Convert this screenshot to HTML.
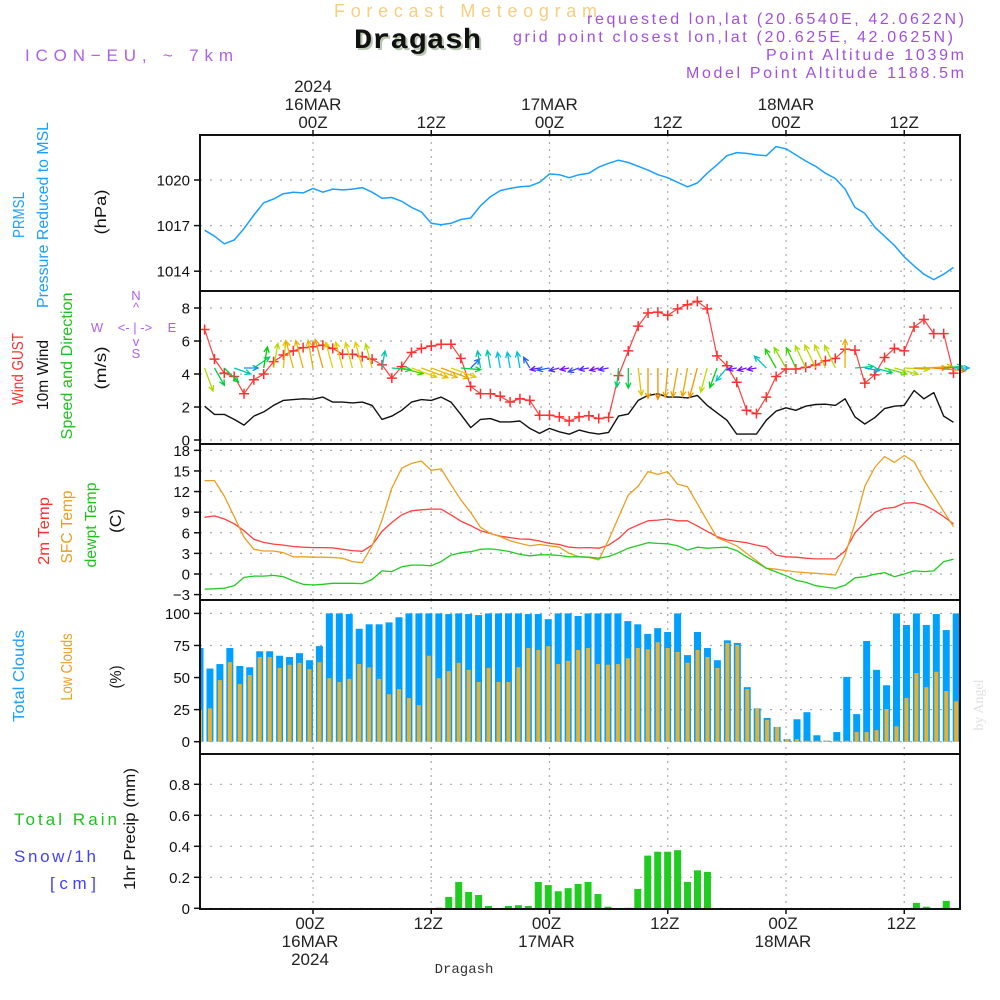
<!DOCTYPE html>
<html><head><meta charset="utf-8"><title>Forecast Meteogram Dragash</title>
<style>
html,body{margin:0;padding:0;background:#fff;}
svg{display:block;font-family:"Liberation Sans",sans-serif;}
</style></head>
<body>
<svg id="chart" width="1000" height="1000" viewBox="0 0 1000 1000" xmlns="http://www.w3.org/2000/svg">
<rect x="0" y="0" width="1000" height="1000" fill="#fff"/>
<g>
<text x="334" y="17" font-size="18" fill="#f5cf80" textLength="263" lengthAdjust="spacing">Forecast Meteogram</text>
<text x="356" y="50" font-size="28" font-weight="bold" font-family="Liberation Mono" fill="#b8c8b0" textLength="127" lengthAdjust="spacingAndGlyphs">Dragash</text>
<text x="354" y="48" font-size="28" font-weight="bold" font-family="Liberation Mono" fill="#111" textLength="127" lengthAdjust="spacingAndGlyphs">Dragash</text>
<text x="25" y="61" font-size="17" fill="#b060e8" textLength="208" lengthAdjust="spacing">ICON−EU, ~ 7km</text>
<text x="587" y="24" font-size="16" fill="#a050e0" textLength="377" lengthAdjust="spacing">requested lon,lat (20.6540E, 42.0622N)</text>
<text x="513" y="42" font-size="16" fill="#a050e0" textLength="440" lengthAdjust="spacing">grid point closest lon,lat (20.625E, 42.0625N)</text>
<text x="766" y="60" font-size="16" fill="#a050e0" textLength="198" lengthAdjust="spacing">Point Altitude 1039m</text>
<text x="686" y="78" font-size="16" fill="#a050e0" textLength="278" lengthAdjust="spacing">Model Point Altitude 1188.5m</text>
</g>
<g font-size="16">
<text transform="translate(24,215) rotate(-90)" text-anchor="middle" fill="#1aa0ff" textLength="46" lengthAdjust="spacingAndGlyphs">PRMSL</text>
<text transform="translate(48,215) rotate(-90)" text-anchor="middle" fill="#1aa0ff" textLength="186" lengthAdjust="spacingAndGlyphs">Pressure Reduced to MSL</text>
<text transform="translate(106,212) rotate(-90)" text-anchor="middle" fill="#111" textLength="45" lengthAdjust="spacingAndGlyphs">(hPa)</text>
<text transform="translate(23,369) rotate(-90)" text-anchor="middle" fill="#ff3030" textLength="72" lengthAdjust="spacingAndGlyphs">Wind GUST</text>
<text transform="translate(48,375) rotate(-90)" text-anchor="middle" fill="#111" textLength="70" lengthAdjust="spacingAndGlyphs">10m Wind</text>
<text transform="translate(72,366) rotate(-90)" text-anchor="middle" fill="#20c020" textLength="147" lengthAdjust="spacingAndGlyphs">Speed and Direction</text>
<text transform="translate(106,368) rotate(-90)" text-anchor="middle" fill="#111" textLength="43" lengthAdjust="spacingAndGlyphs">(m/s)</text>
<g fill="#b060e8" font-size="13">
<text x="136" y="300" text-anchor="middle">N</text>
<text x="136" y="312" text-anchor="middle">^</text>
<text x="97" y="332" text-anchor="middle">W</text>
<text x="135" y="332" text-anchor="middle">&lt;- | -&gt;</text>
<text x="172" y="332" text-anchor="middle">E</text>
<text x="136" y="346" text-anchor="middle">v</text>
<text x="136" y="358" text-anchor="middle">S</text>
</g>
<text transform="translate(49,531) rotate(-90)" text-anchor="middle" fill="#ff3030" textLength="68" lengthAdjust="spacingAndGlyphs">2m Temp</text>
<text transform="translate(72,527) rotate(-90)" text-anchor="middle" fill="#e8a020" textLength="73" lengthAdjust="spacingAndGlyphs">SFC Temp</text>
<text transform="translate(96,525) rotate(-90)" text-anchor="middle" fill="#20c020" textLength="85" lengthAdjust="spacingAndGlyphs">dewpt Temp</text>
<text transform="translate(121,521) rotate(-90)" text-anchor="middle" fill="#111" textLength="24" lengthAdjust="spacingAndGlyphs">(C)</text>
<text transform="translate(24,676) rotate(-90)" text-anchor="middle" fill="#1aa0ff" textLength="92" lengthAdjust="spacingAndGlyphs">Total Clouds</text>
<text transform="translate(72,667) rotate(-90)" text-anchor="middle" fill="#e8a020" textLength="67" lengthAdjust="spacingAndGlyphs">Low Clouds</text>
<text transform="translate(121,677) rotate(-90)" text-anchor="middle" fill="#111" textLength="23" lengthAdjust="spacingAndGlyphs">(%)</text>
<text x="14" y="825" font-size="17" fill="#20c020" textLength="103" lengthAdjust="spacing">Total  Rain</text>
<text x="14" y="862" font-size="17" fill="#4040ff" textLength="82" lengthAdjust="spacing">Snow/1h</text>
<text x="50" y="889" font-size="17" fill="#4040ff" textLength="46" lengthAdjust="spacing">[cm]</text>
<text transform="translate(135,829) rotate(-90)" text-anchor="middle" fill="#111" textLength="122" lengthAdjust="spacingAndGlyphs">1hr Precip (mm)</text>
</g>
<text transform="translate(983,705) rotate(-90)" text-anchor="middle" font-size="14" font-family="Liberation Serif" fill="#e0e0e0">by Angel</text>
<g id="grid"></g>
<g id="marks"></g>
<g id="frames"></g>
<g id="axes"></g>
</svg>
<script>
// hourly series: t = -11 .. 65 hours from 16MAR 00Z
const pressure = [1016.7,1016.3,1015.8,1016.05,1016.8,1017.7,1018.5,1018.75,1019.1,1019.2,1019.15,1019.45,1019.2,1019.4,1019.35,1019.4,1019.5,1019.2,1018.8,1018.85,1018.6,1018.2,1017.9,1017.15,1017.05,1017.15,1017.4,1017.5,1018.3,1018.9,1019.3,1019.45,1019.55,1019.6,1019.85,1020.4,1020.35,1020.15,1020.35,1020.45,1020.85,1021.1,1021.3,1021.15,1020.9,1020.65,1020.35,1020.15,1019.85,1019.55,1019.8,1020.45,1021.0,1021.6,1021.8,1021.75,1021.65,1021.6,1022.2,1022.05,1021.65,1021.25,1020.9,1020.45,1020.1,1019.4,1018.2,1017.8,1016.9,1016.3,1015.7,1014.95,1014.35,1013.8,1013.45,1013.8,1014.25];
const windGust = [6.7,4.9,4.05,3.85,2.8,3.65,4.0,4.75,5.15,5.4,5.6,5.65,5.75,5.55,5.2,5.2,5.05,4.9,4.55,3.75,4.45,5.3,5.55,5.7,5.8,5.8,4.95,3.25,2.8,2.8,2.65,2.3,2.5,2.4,1.5,1.5,1.4,1.15,1.4,1.47,1.3,1.37,3.9,5.4,6.9,7.7,7.75,7.55,7.95,8.2,8.4,7.95,5.1,4.5,3.5,1.8,1.6,2.6,3.85,4.3,4.3,4.4,4.55,4.8,4.95,5.5,5.45,3.45,3.95,5.0,5.55,5.4,6.85,7.3,6.45,6.45,4.05];
const windSpeed = [2.05,1.55,1.55,1.25,0.9,1.45,1.7,2.1,2.4,2.45,2.5,2.47,2.6,2.3,2.3,2.25,2.3,2.1,1.25,1.45,1.8,2.3,2.45,2.4,2.6,2.3,1.55,0.75,1.25,1.3,1.1,1.1,1.15,0.7,0.4,0.7,0.5,0.35,0.6,0.45,0.36,0.46,1.45,1.57,2.4,2.7,2.8,2.6,2.6,2.55,2.7,2.1,1.65,1.2,0.36,0.36,0.36,1.2,1.75,1.95,1.8,2.05,2.15,2.17,2.1,2.5,1.4,0.97,1.35,1.9,2.05,2.1,3.0,2.5,2.87,1.45,1.07];
const windDir = [-70,-60,-45,-20,0,35,80,80,85,105,105,100,105,105,105,105,105,105,80,-5,-15,-20,-20,-20,-20,-20,-5,45,100,100,100,100,100,120,190,190,195,190,200,190,195,190,-95,-90,-83,-90,-90,-95,-100,-100,-105,-105,-110,-130,190,195,190,135,120,120,115,115,115,115,115,90,5,-10,-15,-15,-15,-3,0,3,-5,5,0];
const temp2m = [8.25,8.45,8.0,7.3,6.3,5.05,4.6,4.35,4.2,4.0,3.9,3.85,3.85,3.8,3.6,3.4,3.3,4.2,6.2,7.5,8.6,9.2,9.35,9.45,9.45,8.6,7.7,7.05,6.3,5.9,5.5,5.3,5.1,5.05,4.8,4.45,4.3,3.9,3.8,3.85,3.75,4.2,5.15,6.5,7.15,7.75,7.85,8.0,7.75,7.75,7.0,6.2,5.45,4.95,4.75,4.55,4.2,3.95,2.75,2.5,2.45,2.3,2.2,2.2,2.2,3.35,6.0,7.5,8.95,9.55,9.7,10.3,10.4,10.05,9.3,8.35,7.3];
const tempSfc = [13.6,13.6,11.35,8.35,5.35,3.6,3.35,3.35,3.1,2.5,2.5,2.45,2.45,2.4,2.3,1.8,1.65,4.1,7.85,12.5,15.4,16.1,16.45,15.1,15.3,13.0,10.8,8.95,6.8,5.9,5.45,4.85,4.45,4.1,4.3,4.1,3.9,3.0,2.5,2.4,2.05,4.95,8.25,11.5,12.8,14.9,14.5,14.9,13.05,12.7,10.25,7.75,5.3,4.7,4.1,3.0,1.95,0.85,0.7,0.5,0.3,0.2,0.1,0,-0.15,2.75,7.4,12.75,15.5,17.1,16.25,17.25,16.35,13.7,11.4,9.1,6.9];
const dewpt = [-2.2,-2.15,-2.05,-1.7,-0.5,-0.3,-0.3,-0.2,-0.4,-1.0,-1.5,-1.6,-1.5,-1.35,-1.35,-1.35,-1.4,-0.8,0.45,0.35,1.05,1.3,1.3,1.2,1.8,2.75,3.1,3.25,3.6,3.65,3.5,3.25,2.85,2.65,2.8,2.8,2.7,2.5,2.5,2.45,2.3,2.55,3.1,3.75,4.15,4.55,4.45,4.4,4.1,3.5,3.9,3.75,3.85,3.9,3.4,2.5,1.7,0.85,0.3,-0.25,-0.9,-1.2,-1.7,-1.9,-2.1,-1.65,-0.55,-0.4,-0.05,0.2,-0.4,0,0.45,0.35,0.45,1.8,2.15];
// hourly bars (77 bars)
const totalClouds = [73,57,60.5,73,59,58,70.5,70.5,67,66,69,63.5,74.5,100,100,99.5,88,91.5,91.5,93,97,100,100,100,100,99.5,100,99.5,98.7,100,100,100,100,99.5,99.5,95.5,100,100,98,100,100,100,100,94,91.5,84,88.5,85.5,100,67.5,85.5,73,63.5,79,77,42.5,26,18.5,11.5,2,17.5,23,5,0.8,7.5,50.5,21.5,78.5,56,44,100,91,100,91,99.5,87,100];
const lowClouds = [25,26,48,62,45,52,66,66,57.5,60,61.5,56.5,62,49.5,46.5,49,60.5,58,49,37,41,34,28.5,67,49.5,55,61.5,56,46.5,57.5,46.5,46.5,58,73,71.5,74.5,60.5,63,71.5,73,60.5,60,60.5,65,73,72,77.5,73,70,61.5,71.5,66,57.5,77,75.5,41,26,17,11.5,2,2,0.8,0.8,0.8,0.8,0.8,7.5,7.5,9,25.5,12,34,53.5,42.5,54.5,39.5,31.5];
const precip = [0,0,0,0,0,0,0,0,0,0,0,0,0,0,0,0,0,0,0,0,0,0,0,0,0.004,0.073,0.17,0.105,0.086,0.015,0,0.015,0.02,0.015,0.17,0.15,0.11,0.13,0.157,0.17,0.092,0.01,0,0.003,0.125,0.34,0.365,0.365,0.375,0.17,0.245,0.235,0,0,0,0,0,0,0,0,0,0,0,0,0,0,0,0,0,0,0,0,0.035,0.01,0,0.048,0];
const pressureTicks = [1014,1017,1020];
const windTicks = [0,2,4,6,8];
const tempTicks = [-3,0,3,6,9,12,15,18];
const cloudTicks = [0,25,50,75,100];
const precipTicks = [0,0.2,0.4,0.6,0.8];
const timeTicks = [0,12,24,36,48,60];
const timeLabelsTop = [["2024","16MAR","00Z"],["","","12Z"],["","17MAR","00Z"],["","","12Z"],["","18MAR","00Z"],["","","12Z"]];
const timeLabelsBottom = [["00Z","16MAR","2024"],["12Z","",""],["00Z","17MAR",""],["12Z","",""],["00Z","18MAR",""],["12Z","",""]];

const NS = "http://www.w3.org/2000/svg";
const X0 = 200, X1 = 960, T0 = -11;
const xT = t => 313 + 9.854 * t;
const xBar = k => 200 + k * 9.95;
const yP = p => 180 - (p - 1020) * 15.2;
const yW = v => 440 - v * 16.5;
const yT = c => 574 - c * 6.87;
const yC = c => 741.7 - c * 1.283;
const yR = r => 908.3 - r * 155;
const panels = [
  {name:"pressure", top:135, bot:291, ticks:pressureTicks, y:yP, fmt:v=>String(v)},
  {name:"wind", top:291, bot:444, ticks:windTicks, y:yW, fmt:v=>String(v)},
  {name:"temperature", top:444, bot:600, ticks:tempTicks, y:yT, fmt:v=>(v<0?"−"+(-v):String(v))},
  {name:"clouds", top:600, bot:754, ticks:cloudTicks, y:yC, fmt:v=>String(v)},
  {name:"precip", top:754, bot:909, ticks:precipTicks, y:yR, fmt:v=>(v===0?"0":v.toFixed(1))}
];
function mk(tag, attrs, parent) {
  const e = document.createElementNS(NS, tag);
  for (const k in attrs) e.setAttribute(k, attrs[k]);
  parent.appendChild(e);
  return e;
}
const grid = document.getElementById('grid');
const marks = document.getElementById('marks');
const frames = document.getElementById('frames');
const axes = document.getElementById('axes');

panels.forEach(p => {
  p.ticks.forEach(v => {
    const y = p.y(v);
    const gl = mk('line', {x1:X0, x2:X1, y1:y, y2:y, stroke:'#aaa', 'stroke-width':1.2, 'stroke-dasharray':'2,8'}, grid);
    
    
    const tk = mk('line', {x1:194, x2:X0, y1:y, y2:y, stroke:'#111', 'stroke-width':1.5}, axes);
    
    
    const tl = mk('text', {x:190, y:y + 5.5, 'text-anchor':'end', 'font-size':15, fill:'#111'}, axes);
    tl.textContent = p.fmt(v);
    
    
  });
  timeTicks.forEach(t => {
    const vl = mk('line', {x1:xT(t), x2:xT(t), y1:p.top, y2:p.bot, stroke:'#aaa', 'stroke-width':1.2, 'stroke-dasharray':'2,5'}, grid);
    
    
  });
  const fr = mk('rect', {x:X0, y:p.top, width:X1 - X0, height:p.bot - p.top, fill:'none', stroke:'#111', 'stroke-width':2}, frames);
  
  
});

timeTicks.forEach((t, i) => {
  const x = xT(t);
  const tt = mk('line', {x1:x, x2:x, y1:130, y2:135, stroke:'#111', 'stroke-width':1.5}, axes);
  
  
  const bt = mk('line', {x1:x, x2:x, y1:909, y2:914, stroke:'#111', 'stroke-width':1.5}, axes);
  
  
  timeLabelsTop[i].forEach((s, j) => {
    if (!s) return;
    const tx = mk('text', {x:x, y:92 + j * 18, 'text-anchor':'middle', 'font-size':17, fill:'#222'}, axes);
    tx.textContent = s;
    
    
  });
  timeLabelsBottom[i].forEach((s, j) => {
    if (!s) return;
    const tx = mk('text', {x:x - 3, y:929 + j * 18, 'text-anchor':'middle', 'font-size':17, fill:'#222'}, axes);
    tx.textContent = s;
    
    
  });
});
const foot = mk('text', {x:464, y:973, 'text-anchor':'middle', 'font-size':14, 'font-family':'Liberation Mono', fill:'#333'}, axes);
foot.textContent = 'Dragash';



function drawLine(vals, yf, color, name, w) {
  const pts = vals.map((v, i) => xT(T0 + i).toFixed(1) + ',' + yf(v).toFixed(1)).join(' ');
  const pl = mk('polyline', {points:pts, fill:'none', stroke:color, 'stroke-width':w || 1.4, 'stroke-linejoin':'round'}, marks);
  
  
}
drawLine(pressure, yP, '#1aa0ff', 'pressure-line', 1.5);
drawLine(windSpeed, yW, '#111', 'wind-speed-line', 1.4);
drawLine(windGust, yW, '#ff4040', 'wind-gust-line', 1.2);
windGust.forEach((v, i) => {
  const x = xT(T0 + i), y = yW(v);
  const m = mk('path', {d:`M${x-5},${y}H${x+5}M${x},${y-5}V${y+5}`, stroke:'#ff3030', 'stroke-width':1.5}, marks);
  
  
});
const stops = [[0.3,[128,0,255]],[0.7,[32,96,255]],[1.1,[0,192,224]],[1.4,[0,208,128]],[1.7,[0,208,0]],[2.0,[160,224,0]],[2.3,[224,208,0]],[2.6,[240,160,0]],[2.9,[240,128,0]]];
function speedColor(s) {
  if (s <= stops[0][0]) return `rgb(${stops[0][1]})`;
  for (let i = 1; i < stops.length; i++) {
    if (s <= stops[i][0]) {
      const f = (s - stops[i-1][0]) / (stops[i][0] - stops[i-1][0]);
      const c = stops[i-1][1].map((a, j) => Math.round(a + (stops[i][1][j] - a) * f));
      return `rgb(${c})`;
    }
  }
  return `rgb(${stops[stops.length-1][1]})`;
}
windDir.forEach((a, i) => {
  const s = windSpeed[i];
  const x = xT(T0 + i), y = 368;
  const L = 6 + 9 * s, r = a * Math.PI / 180;
  const ex = x + L * Math.cos(r), ey = y - L * Math.sin(r);
  const h1 = r + Math.PI - 0.45, h2 = r + Math.PI + 0.45;
  const d = `M${x.toFixed(1)},${y}L${ex.toFixed(1)},${ey.toFixed(1)}M${(ex+6*Math.cos(h1)).toFixed(1)},${(ey-6*Math.sin(h1)).toFixed(1)}L${ex.toFixed(1)},${ey.toFixed(1)}L${(ex+6*Math.cos(h2)).toFixed(1)},${(ey-6*Math.sin(h2)).toFixed(1)}`;
  const ar = mk('path', {d:d, fill:'none', stroke:speedColor(s), 'stroke-width':1.3}, marks);
  
  
});
drawLine(temp2m, yT, '#ff4040', 'temp-2m-line', 1.3);
drawLine(tempSfc, yT, '#e8a020', 'temp-sfc-line', 1.3);
drawLine(dewpt, yT, '#20cc20', 'dewpoint-line', 1.3);
const clip = mk('clipPath', {id:'plotclip'}, marks);
mk('rect', {x:X0 + 1, y:0, width:X1 - X0 - 2, height:1000}, clip);
const barG = mk('g', {'clip-path':'url(#plotclip)'}, marks);


totalClouds.forEach((v, k) => {
  const x = xBar(k);
  const b = mk('rect', {x:x - 3.5, y:yC(v), width:7, height:yC(0) - yC(v), fill:'#00a0ff'}, barG);
  
  
});
lowClouds.forEach((v, k) => {
  const x = xBar(k);
  const b = mk('rect', {x:x - 2, y:yC(v), width:4, height:yC(0) - yC(v), fill:'#e8b030'}, barG);
  
  
});
precip.forEach((v, k) => {
  if (v <= 0) return;
  const x = xBar(k);
  const b = mk('rect', {x:x - 3.5, y:yR(v), width:7, height:yR(0) - yR(v), fill:'#20cc20'}, barG);
  
  
});
</script>
</body></html>
